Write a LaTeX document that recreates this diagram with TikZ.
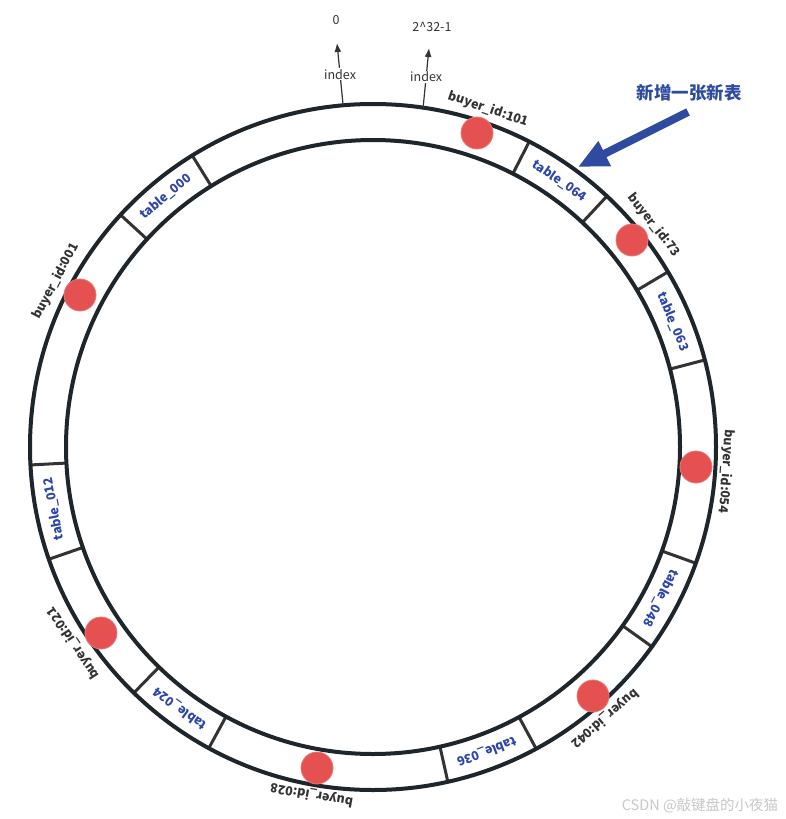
\documentclass[tikz,border=0pt]{standalone}
\usepackage{fontspec}
\setmainfont{Noto Sans CJK SC}
\newfontfamily\cjk{Noto Sans CJK SC}
\usetikzlibrary{arrows.meta,calc}
\definecolor{ringc}{HTML}{1E252B}
\definecolor{divc}{HTML}{333333}
\definecolor{dotc}{HTML}{E55050}
\definecolor{dotedge}{HTML}{EC7777}
\definecolor{tblue}{HTML}{2D46A8}
\definecolor{abl}{HTML}{2F4B9F}
\definecolor{lbl}{HTML}{333333}
\definecolor{wmc}{HTML}{C8C8C8}
\begin{document}
\begin{tikzpicture}[x=1pt,y=1pt,
  ring/.style={draw=ringc,line width=4pt},
  divider/.style={draw=divc,line width=3pt},
  dot/.style={circle,fill=dotc,draw=dotedge,line width=0.8pt,minimum size=32pt,inner sep=0pt},
  tbl/.style={text=tblue,font=\cjk\bfseries\fontsize{12.5}{14}\selectfont,inner sep=1pt},
  buyer/.style={text=lbl,font=\cjk\bfseries\fontsize{12.5}{14}\selectfont,inner sep=1pt},
  idx/.style={text=lbl,font=\cjk\fontsize{12.5}{14}\selectfont,inner sep=1pt},
  idxarrow/.style={draw=lbl,line width=1.2pt,-{Latex[length=9pt,width=7pt]}},
  newarrow/.style={draw=abl,line width=8pt,-{Triangle[length=30pt,width=26pt]}},
]
\useasboundingbox (0,0) rectangle (785,-819);
\fill[white] (0,0) rectangle (785,-819);
\coordinate (c) at (373,-447);

% dividers
\foreach \a in {121.8,137.4,47,62.9,14.7,30.7,-19.8,-35.6,-61.6,-77.4,-118.6,-134.2,183,199.1}
  \draw[divider] ($(c)+(\a:307)$) -- ($(c)+(\a:343)$);

% rings
\draw[ring] (c) circle[radius=343];
\draw[ring] (c) circle[radius=307];

% table labels
\node[tbl,rotate=39.6]  (t000) at ($(c)+(129.6:325)$) {table\_000};
\node[tbl,rotate=-35]   (t064) at ($(c)+(55:325)$) {table\_064};
\node[tbl,rotate=-67.3] (t063) at ($(c)+(22.7:325)$) {table\_063};
\node[tbl,rotate=-117.7](t048) at ($(c)+(-27.7:325)$) {table\_048};
\node[tbl,rotate=-159.5](t036) at ($(c)+(-69.5:325)$) {table\_036};
\node[tbl,rotate=143.6] (t024) at ($(c)+(-126.4:325)$) {table\_024};
\node[tbl,rotate=101]   (t012) at ($(c)+(191:325)$) {table\_012};

% dots
\node[dot] (d101) at (477,-133) {};
\node[dot] (d073) at (632,-240) {};
\node[dot] (d054) at (696,-467) {};
\node[dot] (d042) at (593,-696) {};
\node[dot] (d028) at (317,-768) {};
\node[dot] (d021) at (101,-633) {};
\node[dot] (d001) at (80,-295) {};

% buyer labels
\node[buyer,rotate=-18.9] (b101) at ($(c)+(71.1:357)$) {buyer\_id:101};
\node[buyer,rotate=-51.7] (b073) at ($(c)+(38.3:358)$) {buyer\_id:73};
\node[buyer,rotate=-94]   (b054) at ($(c)+(-4:354)$) {buyer\_id:054};
\node[buyer,rotate=-139.5](b042) at ($(c)+(-49.5:357)$) {buyer\_id:042};
\node[buyer,rotate=170]   (b028) at ($(c)+(-100:353)$) {buyer\_id:028};
\node[buyer,rotate=123.2] (b021) at ($(c)+(213.2:358)$) {buyer\_id:021};
\node[buyer,rotate=62.4]  (b001) at ($(c)+(152.4:358)$) {buyer\_id:001};

% index arrows
\coordinate (r0) at ($(c)+(95:343)$);
\coordinate (r1) at ($(c)+(81.6:343)$);
\coordinate (tip0) at (337,-43);
\coordinate (tip1) at (429,-48);
\node[idx] (z0) at (336,-20) {0};
\node[idx] (z1) at (432,-27) {2\textasciicircum 32-1};
\draw[idxarrow] (r0) -- (tip0) node[idx,fill=white,pos=0.5] (i0) {index};
\draw[idxarrow] (r1) -- (tip1) node[idx,fill=white,pos=0.52] (i1) {index};

% new table annotation
\node[text=abl,font=\cjk\bfseries\fontsize{17.5}{20}\selectfont] (new) at (689,-93) {新增一张新表};
\coordinate (astart) at (688,-112);
\coordinate (hit) at ($(c)+(53.8:347)$);
\draw[newarrow] (astart) -- (hit);

% watermark
\node[text=wmc,font=\cjk\fontsize{14.5}{16}\selectfont] (wm) at (700,-806) {CSDN @敲键盘的小夜猫};
\end{tikzpicture}
\end{document}
